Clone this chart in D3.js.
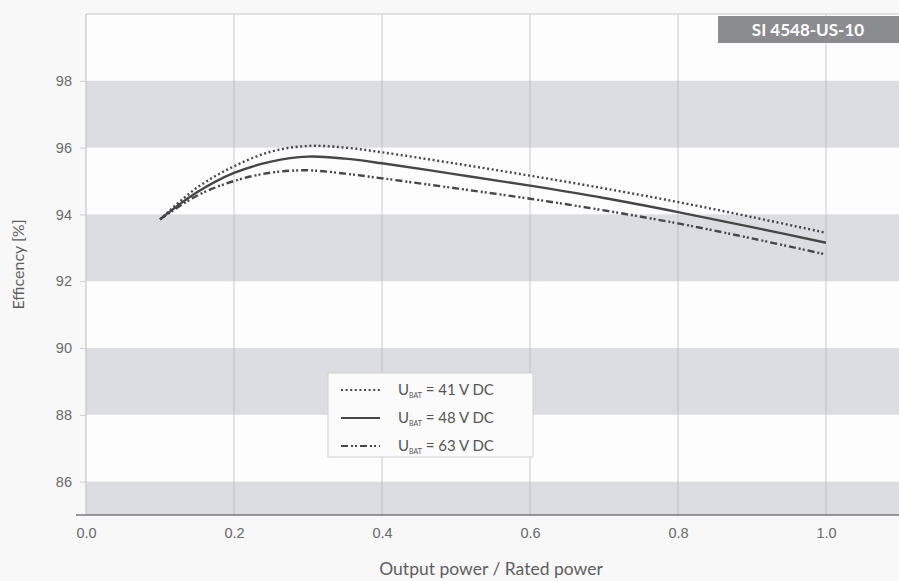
<!DOCTYPE html>
<html><head><meta charset="utf-8">
<script src="https://cdn.jsdelivr.net/npm/d3@7"></script>
<style>
html,body{margin:0;padding:0;background:#f8f8f8;}
svg{display:block;font-family:"Lato","Open Sans",sans-serif;}
</style></head>
<body>
<svg id="chart" width="899" height="581"></svg>
<script>
const xValues = [0.1, 0.15, 0.2, 0.25, 0.3, 0.35, 0.4, 0.5, 0.6, 0.7, 0.8, 0.9, 1.0];
const eff41 = [93.85, 94.8, 95.44, 95.88, 96.05, 96.0, 95.86, 95.52, 95.16, 94.78, 94.37, 93.92, 93.45];
const eff48 = [93.85, 94.66, 95.24, 95.58, 95.73, 95.67, 95.53, 95.2, 94.86, 94.49, 94.07, 93.62, 93.15];
const eff63 = [93.85, 94.56, 95.0, 95.25, 95.32, 95.22, 95.08, 94.78, 94.47, 94.12, 93.73, 93.28, 92.8];
const seriesNames = ["41", "48", "63"];
const xTicks = [0.0, 0.2, 0.4, 0.6, 0.8, 1.0];
const yTicks = [86, 88, 90, 92, 94, 96, 98];
const bands = [[96, 98], [92, 94], [88, 90], [85, 86]];
const modelLabel = "SI 4548-US-10";

const svg = d3.select("#chart");
const x = d3.scaleLinear().domain([0, 1]).range([86, 826]);
const y = d3.scaleLinear().domain([85, 100]).range([515, 14]);
const right = 899;

svg.append("rect").attr("x", x(0)).attr("y", y(100)).attr("width", right - x(0)).attr("height", y(85) - y(100)).attr("fill", "#fdfdfd");

svg.selectAll("rect.band").data(bands).enter().append("rect")
  .attr("class", "band")
  .attr("x", x(0)).attr("width", right - x(0))
  .attr("y", d => y(d[1])).attr("height", d => y(d[0]) - y(d[1]))
  .attr("fill", "#dcdde2");

svg.selectAll("line.vg").data(xTicks.slice(1)).enter().append("line")
  .attr("x1", d => x(d)).attr("x2", d => x(d))
  .attr("y1", y(100)).attr("y2", y(85))
  .attr("stroke", "#b9bac0").attr("stroke-width", 0.8);

svg.append("line").attr("x1", x(0)).attr("x2", right).attr("y1", y(100)).attr("y2", y(100)).attr("stroke", "#c8c8c8").attr("stroke-width", 1);
svg.append("line").attr("x1", x(0)).attr("x2", x(0)).attr("y1", y(100)).attr("y2", y(85)).attr("stroke", "#bdbdc2").attr("stroke-width", 1);

const yAxis = d3.axisLeft(y).tickValues(yTicks).tickSize(6).tickPadding(8).tickFormat(d3.format("d"));
const gy = svg.append("g").attr("transform", `translate(${x(0)},0)`).call(yAxis);
gy.select(".domain").remove();
gy.selectAll(".tick line").attr("stroke", "#cfcfd3");
gy.selectAll(".tick text").attr("fill", "#6a6a6a").attr("font-size", 14.5);

const xAxis = d3.axisBottom(x).tickValues(xTicks).tickSize(0).tickPadding(13).tickFormat(d3.format(".1f"));
const gx = svg.append("g").attr("transform", `translate(0,${y(85)})`).call(xAxis);
gx.select(".domain").remove();
gx.selectAll(".tick text").attr("fill", "#6a6a6a").attr("font-size", 14.5);
svg.append("line").attr("x1", 76).attr("x2", right).attr("y1", y(85)).attr("y2", y(85)).attr("stroke", "#7a7a7e").attr("stroke-width", 1.5);

svg.append("text").attr("transform", `translate(24,${(y(100)+y(85))/2}) rotate(-90)`)
  .attr("text-anchor", "middle").attr("fill", "#5e5e5e").attr("font-size", 16).text("Efficency [%]");
svg.append("text").attr("x", 491).attr("y", 575).attr("text-anchor", "middle")
  .attr("fill", "#5e5e5e").attr("font-size", 17.5).text("Output power / Rated power");

const dashes = ["2,2.6", null, "7,3,2,2,2,3"];
const allSeries = [eff41, eff48, eff63];
const line = d3.line().x(d => x(d[0])).y(d => y(d[1])).curve(d3.curveCatmullRom.alpha(0.5));
allSeries.forEach((s, i) => {
  svg.append("path").datum(xValues.map((v, j) => [v, s[j]]))
    .attr("d", line).attr("fill", "none")
    .attr("stroke", "#464648").attr("stroke-width", 2.4)
    .attr("stroke-dasharray", dashes[i]);
});

const lg = svg.append("g");
lg.append("rect").attr("x", 328).attr("y", 373).attr("width", 205).attr("height", 84)
  .attr("fill", "#fbfbfb").attr("stroke", "#d0d0d4").attr("stroke-width", 1);
seriesNames.forEach((n, i) => {
  const yy = 390 + i * 28;
  lg.append("line").attr("x1", 341).attr("x2", 380).attr("y1", yy).attr("y2", yy)
    .attr("stroke", "#464648").attr("stroke-width", 2.2).attr("stroke-dasharray", dashes[i]);
  const t = lg.append("text").attr("x", 398).attr("y", yy + 5).attr("fill", "#555").attr("font-size", 15);
  t.append("tspan").text("U");
  t.append("tspan").attr("font-size", 7).attr("dy", 3).text("BAT");
  t.append("tspan").attr("dy", -3).text(" = " + n + " V DC");
});

svg.append("rect").attr("x", 718).attr("y", 16).attr("width", right - 718).attr("height", 27).attr("fill", "#8b8c90");
svg.append("text").attr("x", 808).attr("y", 36).attr("text-anchor", "middle")
  .attr("fill", "#ffffff").attr("font-size", 17).attr("font-weight", "bold").text(modelLabel);
</script>
</body></html>
